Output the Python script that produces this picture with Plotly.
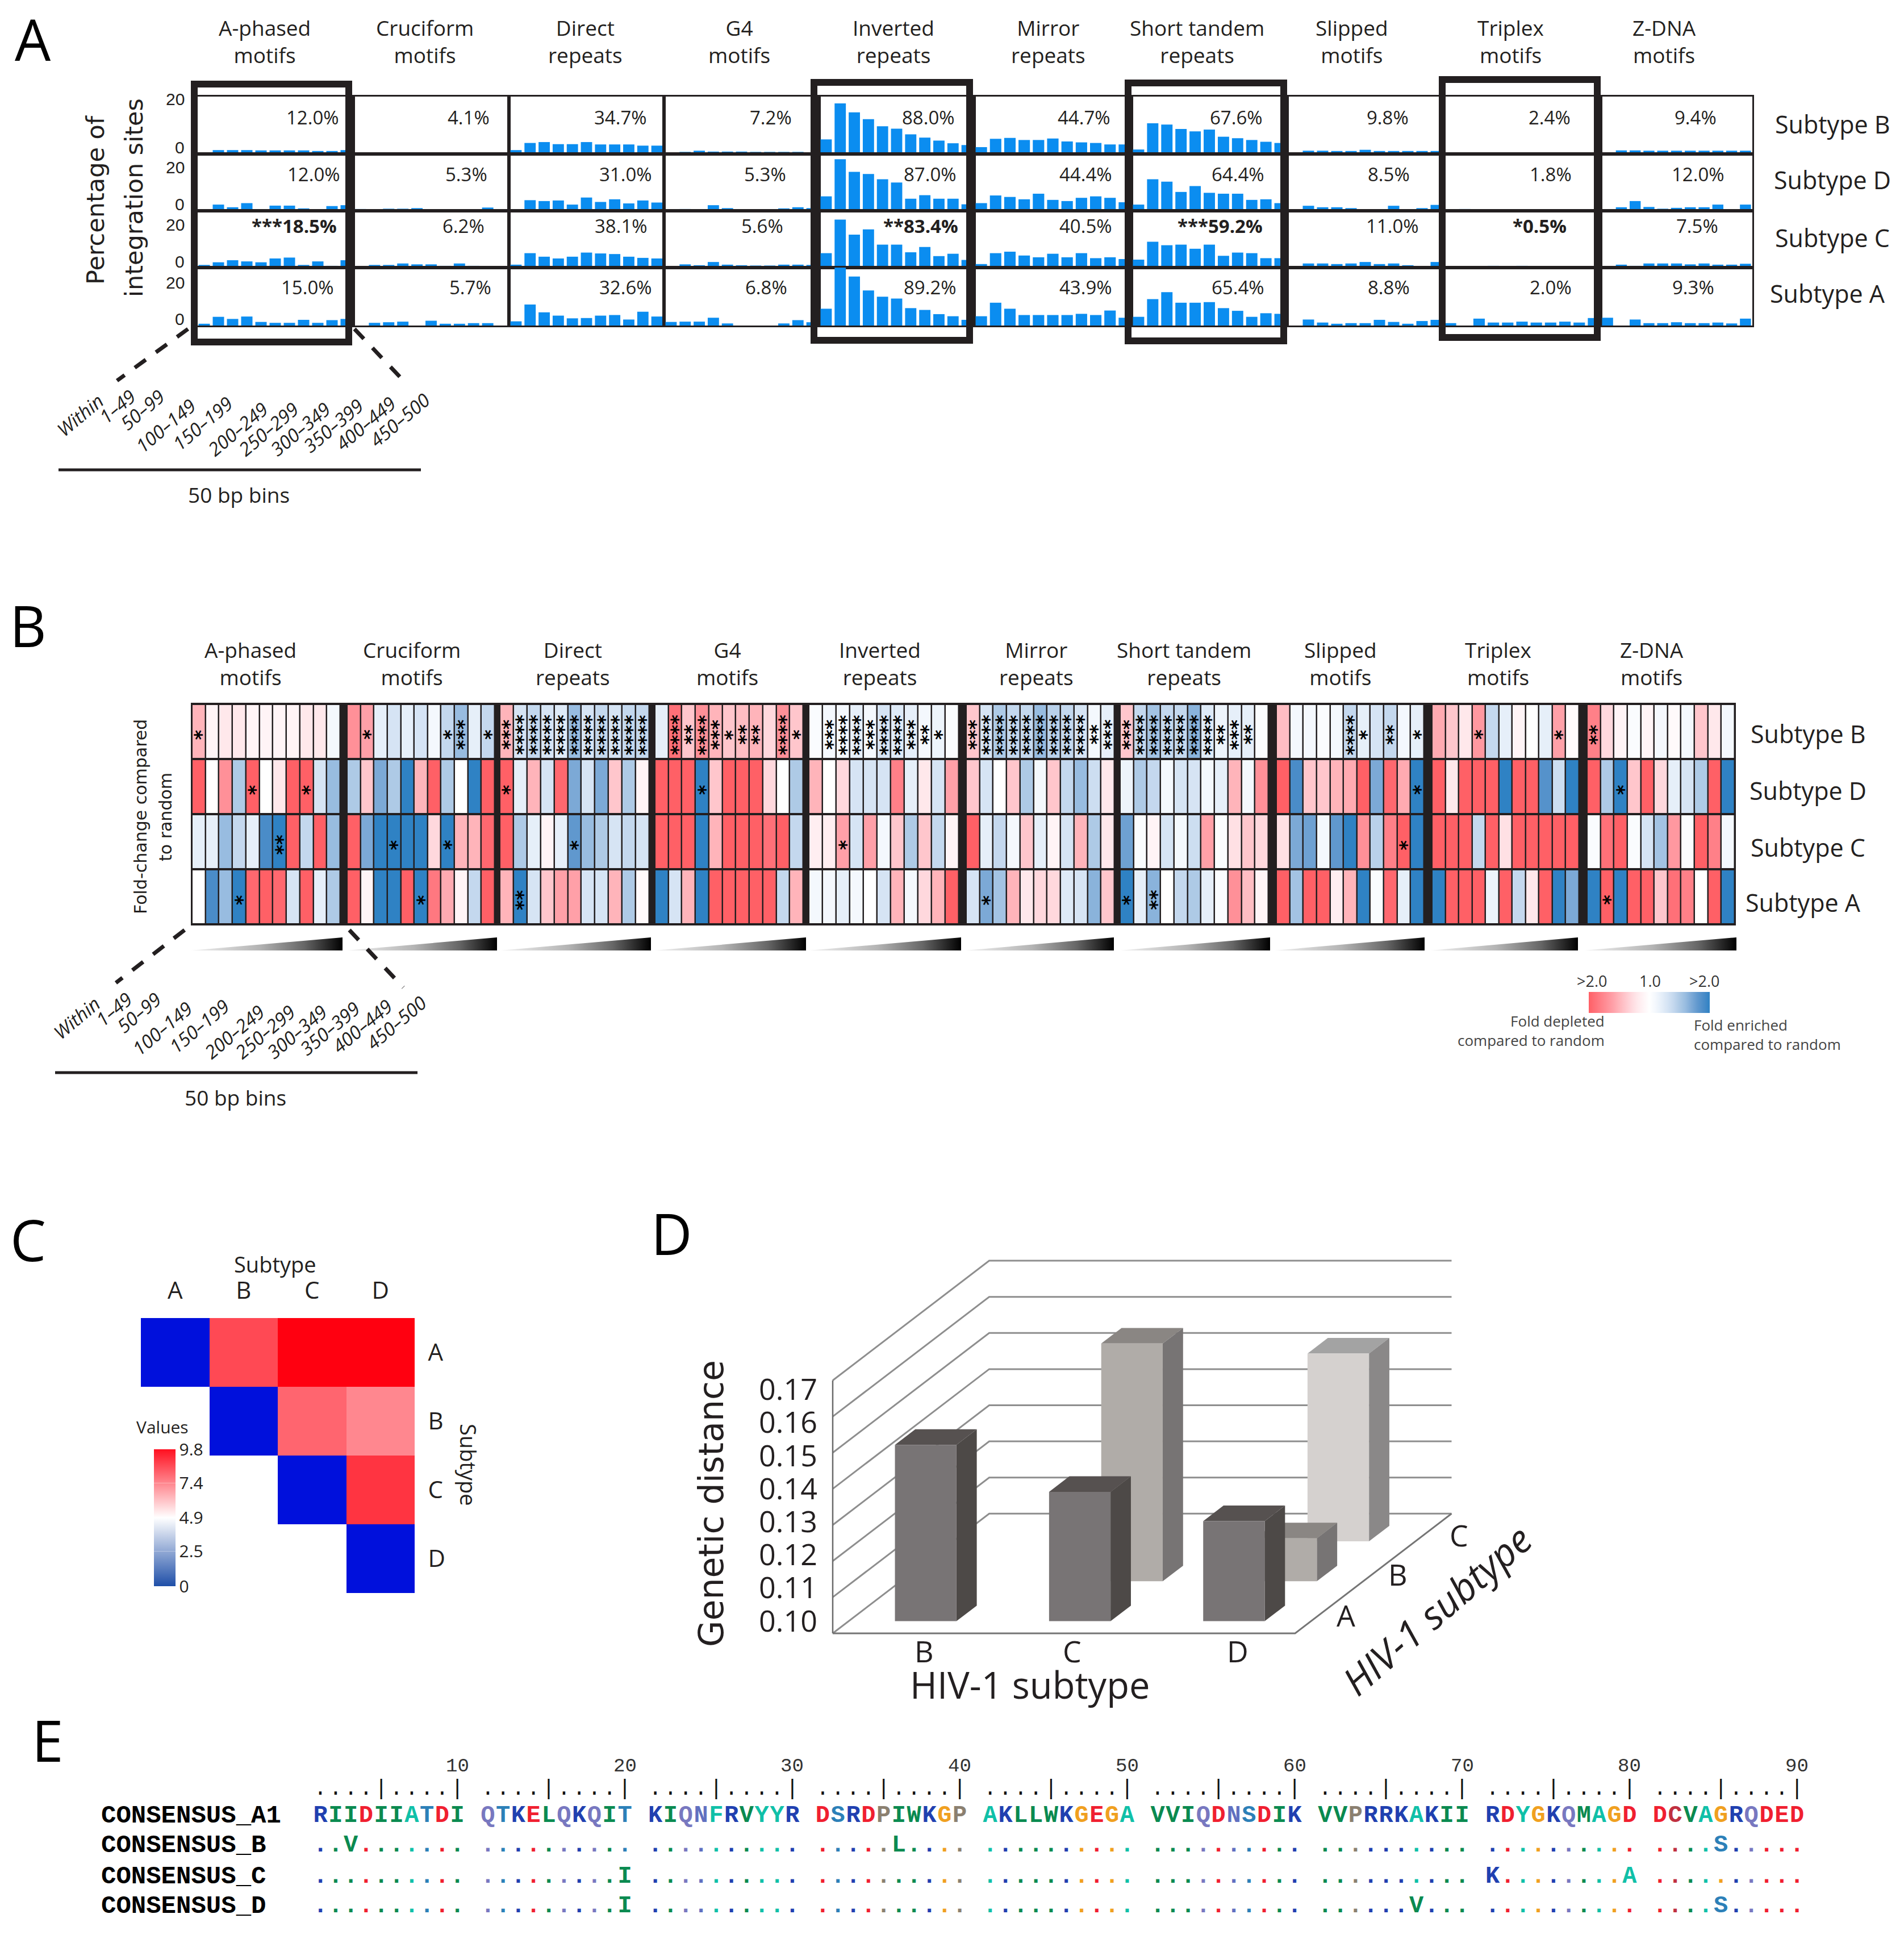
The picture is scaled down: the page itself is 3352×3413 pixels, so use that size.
import plotly.graph_objects as go

W, H = 3352, 3413
INK = "#231f20"
SANS = "Open Sans"
WIDE = "DejaVu Sans"
MONO = "Liberation Mono"

motifs = ["A-phased<br>motifs", "Cruciform<br>motifs", "Direct<br>repeats", "G4<br>motifs", "Inverted<br>repeats",
          "Mirror<br>repeats", "Short tandem<br>repeats", "Slipped<br>motifs", "Triplex<br>motifs", "Z-DNA<br>motifs"]
subtypes = ["Subtype B", "Subtype D", "Subtype C", "Subtype A"]
bins = ["Within", "1–49", "50–99", "100–149", "150–199", "200–249", "250–299", "300–349", "350–399", "400–449", "450–500"]

# Panel A: percentage of integration sites per bin, row order B, D, C, A
aphased = [[.5,1.3,1.3,1.3,1.2,1.2,1.2,1.2,1.0,1.0,1.3],[0,2.1,1.2,2.6,0,1.75,1.75,.8,0,1.6,1.9],
           [.9,1.8,2.5,2.1,1.8,3.1,3.4,.9,2.1,.6,2.5],[.6,2.9,2.2,3.0,1.2,.9,.9,1.9,.9,1.8,2.2]]
cruciform = [[0,.4,.4,.4,.4,.4,.4,.4,.4,.4,.4],[.6,.5,.7,.7,.9,.5,0,.5,.5,1.1,0],
             [0,.9,.9,1.4,1.1,1.1,.6,1.4,.6,.4,0],[0,.9,1.1,1.3,0,1.6,.6,.6,.8,.8,0]]
direct = [[1.3,3.7,4.0,3.3,3.3,4.0,3.2,3.2,3.2,2.8,2.8],[0,3.6,3.3,3.5,2.1,4.5,3.0,3.9,2.5,3.5,2.8],
          [1.0,4.9,3.7,3.1,3.7,5.1,4.8,4.6,3.7,3.3,3.1],[1.4,7.0,4.4,3.3,2.4,2.5,3.3,3.5,2.0,4.6,3.0]]
g4 = [[.4,.7,1.1,.8,.8,.8,.7,.7,.7,.7,.4],[0,.6,0,1.9,.9,0,0,0,.8,1.2,.9],
      [0,1.1,.8,1.9,1.0,.8,.7,.7,1.0,1.0,.9],[1.2,1.3,1.3,2.6,.7,0,0,0,.7,1.8,1.1]]
inverted = [[4.9,17.0,14.0,11.7,9.3,8.5,6.6,5.5,4.5,3.6,3.0],[4.9,17.5,13.2,12.5,10.7,9.6,4.1,5.3,4.1,4.1,2.2],
            [4.9,16.3,11.2,13.0,7.8,7.8,5.2,7.0,3.9,4.7,2.6],[5.6,19.5,16.3,11.7,9.6,9.0,5.8,5.2,3.8,3.1,1.9]]
mirror = [[2.3,5.1,5.4,4.7,4.7,5.2,4.2,3.9,3.7,3.2,3.2],[2.6,5.2,4.7,3.9,5.8,3.7,3.3,4.4,4.9,4.4,2.9],
          [1.2,4.9,5.4,4.1,3.5,4.7,3.5,4.9,3.2,3.5,2.9],[3.1,7.6,5.6,3.5,3.5,3.5,3.5,3.9,3.5,5.0,2.6]]
tandem = [[1.5,10.3,9.9,8.4,7.6,8.2,5.8,5.3,4.7,4.1,3.7],[2.1,10.7,9.9,6.4,8.4,6.1,5.8,5.8,3.7,3.9,2.6],
          [2.7,8.8,7.6,7.8,6.4,7.8,4.0,5.1,4.9,3.2,3.2],[2.9,8.8,11.1,7.6,7.6,7.8,5.8,4.9,2.9,4.1,3.9]]
slipped = [[.4,1.1,1.1,1.0,1.0,1.4,1.0,1.0,1.0,1.0,1.0],[0,1.7,1.2,1.2,.9,.5,0,1.7,0,.9,2.0],
           [.5,1.4,1.4,1.2,1.4,1.9,1.2,1.4,.8,0,1.9],[0,2.0,1.0,.6,.8,.8,1.9,1.2,.6,1.5,1.9]]
triplex = [[0,.5,.4,.4,.3,.4,.3,.3,.3,.3,.3],[0,.6,0,0,0,.5,0,0,.4,.4,.3],
           [0,0,0,.6,0,.6,0,0,0,0,0],[.8,0,2.3,1.0,1.0,1.3,1.0,1.0,1.3,1.0,2.5]]
zdna = [[0,1.2,1.2,1.1,1.1,1.1,1.1,1.1,1.1,1.1,1.1],[0,1.2,3.3,1.3,.7,1.0,1.2,1.2,2.1,0,2.1],
        [.5,1.0,.6,1.4,1.4,1.4,1.1,1.4,1.0,1.0,1.3],[2.6,0,2.0,.8,.8,1.1,.8,.8,1.0,.7,2.3]]
panel_a = [aphased, cruciform, direct, g4, inverted, mirror, tandem, slipped, triplex, zdna]
pct_labels = [["12.0%","4.1%","34.7%","7.2%","88.0%","44.7%","67.6%","9.8%","2.4%","9.4%"],
              ["12.0%","5.3%","31.0%","5.3%","87.0%","44.4%","64.4%","8.5%","1.8%","12.0%"],
              ["***18.5%","6.2%","38.1%","5.6%","**83.4%","40.5%","***59.2%","11.0%","*0.5%","7.5%"],
              ["15.0%","5.7%","32.6%","6.8%","89.2%","43.9%","65.4%","8.8%","2.0%","9.3%"]]

# Panel B: fold change (negative = depleted, positive = enriched; +-10 is >2.0)
fc_aphased = [[-5,-1,-2,-2,-1,-1,-1,-1,-2,-2,1],[-10,0,-7,5,-10,0,-2,-10,-10,3,6],
              [2,2,6,4,2,9,10,-10,4,-10,6],[0,9,6,10,-9.5,-10,-9.5,3,-10,2,5]]
fc_cruciform = [[-7,-6,2,3,2,3,1,4,6,2,4],[5,-4,7,5,10,-5,-10,5,0,10,-10],
                [-10,7,10,10,10,10,-3,10,-5,-5,-9.5],[-10,-1,10,10,-10,10,-8.5,-5.5,-1,4,-10]]
fc_direct = [[-5,3,4,3,2.5,6,3,4,3,4,4],[-10,2,-5,3,-9.5,7,3,7,-4,5,-1],
             [-10,5,2,-1,2,8,6,5,3,4,3],[-5,10,3,-4,-6,-6,3,3,-5,5,-.5]]
fc_g4 = [[2,-9,-4,-7,-5,-4,-4.5,-5,-3,-7,-4],[-10,-10,-10,10,-4,-10,-10,-10,-3,0,5],
         [-10,-10,-10,10,-5,-10,-10,-10,-9,-10,4],[10,3,-5,10,-10,-10,-10,-10,-10,4,-5]]
fc_inverted = [[.5,1,1,2,1,3,2.5,2,1,1.5,.5],[-5,0,-3,3,3,3,-8,2,-2,3,-6],
               [-1.5,-1.5,-6,3,-6,1,-4,5,-4,4,-1],[1,1,2,1,0,3,-5,1,-3,-5,-10]]
fc_mirror = [[-4,3,5,4,4,6,4.5,4,3,1,2],[-4,3,0,-4,5,1,-4,4,6,3.5,-2],
             [-10,2,4,1,-4,2,-1,3,-5,5,-2],[3,7,5.5,-5,-2,-3,-3,2.5,3,6.5,-4]]
fc_tandem = [[-4,4,5.5,4,4,6.5,2.5,1.5,2,2,.5],[1.5,5,4,1,3,3,1,2,-5,1,-7],
             [7.5,.5,-1,3,1,3.5,-6,.5,-2.5,-4,-3],[10,2,6.5,0,4,5,2,.5,-7,-4.5,-1]]
fc_slipped = [[-4.5,1,1,.5,1,4,2,3,4,1,2],[-10,9,-4,-4,-5,-5.5,-10,7,-9.5,-5.5,10],
              [-2.5,7,7.5,1,8,10,-7,4.5,-8,-10,10],[-10,5.5,-10,-10,-1.5,-5,10,.5,-9.5,2,10]]
fc_triplex = [[-5.5,-4,-2,-6.5,4,2,-1,0,2,-6,-.5],[-10,-2,-10,-10,-10,10,-10,-10,8.5,3.5,10],
              [-10,-10,-10,4,-10,-2.5,-10,-10,-10,-10,-10],[10,-10,-10,-10,1.5,-10,4,-2,-10,10,7]]
fc_zdna = [[-8,-3,-1,.5,-1,1,-.5,1,-4,-2,1],[-10,5,10,-4,-10,-3,2,3,5,-10,10],
           [.5,-9,-10,.5,3,5.5,-6.5,.5,-10,-8,1],[10,-10,10,-10,-10,-4,-9,-8,0,-10,10]]
panel_b = [fc_aphased, fc_cruciform, fc_direct, fc_g4, fc_inverted, fc_mirror, fc_tandem, fc_slipped, fc_triplex, fc_zdna]
# significance stars: (row, bin, number of stars)
stars = [[(0,0,1),(1,4,1),(1,8,1),(2,6,2),(3,3,1)],
         [(0,1,1),(0,7,1),(0,8,3),(0,10,1),(2,3,1),(2,7,1),(3,5,1)],
         [(0,0,3),(0,1,4),(0,2,4),(0,3,4),(0,4,4),(0,5,4),(0,6,4),(0,7,4),(0,8,4),(0,9,4),(0,10,4),(1,0,1),(2,5,1),(3,1,2)],
         [(0,1,4),(0,2,2),(0,3,4),(0,4,3),(0,5,1),(0,6,2),(0,7,2),(0,9,4),(0,10,1),(1,3,1)],
         [(0,1,3),(0,2,4),(0,3,4),(0,4,3),(0,5,4),(0,6,4),(0,7,3),(0,8,2),(0,9,1),(2,2,1)],
         [(0,0,3),(0,1,4),(0,2,4),(0,3,4),(0,4,4),(0,5,4),(0,6,4),(0,7,4),(0,8,4),(0,9,2),(0,10,3),(3,1,1)],
         [(0,0,3),(0,1,4),(0,2,4),(0,3,4),(0,4,4),(0,5,4),(0,6,4),(0,7,2),(0,8,3),(0,9,2),(3,0,1),(3,2,2)],
         [(0,5,4),(0,6,1),(0,8,2),(0,10,1),(1,10,1),(2,9,1)],
         [(0,3,1),(0,9,1)],
         [(0,0,2),(1,2,1),(3,1,1)]]

# Panel C: pairwise values (upper triangle)
c_labels = ["A", "B", "C", "D"]
c_values = [[0, 8.4, 9.8, 9.8], [None, 0, 7.85, 7.2], [None, None, 0, 8.8], [None, None, None, 0]]
c_ticks = [0, 2.5, 4.9, 7.4, 9.8]

# Panel D: genetic distance, rows A, B, C by columns B, C, D
d_columns = ["B", "C", "D"]
d_rows = ["A", "B", "C"]
d_values = [[0.1488, 0.1358, 0.1277], [None, 0.1658, 0.1119], [None, None, 0.1520]]
d_ticks = [0.10, 0.11, 0.12, 0.13, 0.14, 0.15, 0.16, 0.17]

# Panel E: alignment
consensus = "RIIDIIATDIQTKELQKQITKIQNFRVYYRDSRDPIWKGPAKLLWKGEGAVVIQDNSDIKVVPRRKAKIIRDYGKQMAGDDCVAGRQDED"
seq_names = ["CONSENSUS_A1", "CONSENSUS_B", "CONSENSUS_C", "CONSENSUS_D"]
substitutions = [{}, {2: "V", 35: "L", 84: "S"}, {19: "I", 70: "K", 79: "A"}, {19: "I", 66: "V", 84: "S"}]
residue_colors = {"R": "#2040B0", "K": "#2040B0", "I": "#0A8A50", "L": "#0A8A50", "V": "#0A8A50", "M": "#0A8A50",
                  "W": "#0A8A50", "D": "#F01F30", "E": "#F01F30", "A": "#10C0A8", "F": "#10C0A8", "Y": "#10C0A8",
                  "T": "#2C80B8", "S": "#2C80B8", "Q": "#7878C0", "N": "#6070C0", "G": "#F0A020", "P": "#8B8070",
                  "C": "#C03040"}

fig = go.Figure()
ann, shp = [], []
TEXT_NUDGE = -3


def T(text, x, y, size, font=SANS, color=INK, anchor="center", angle=0, align="center"):
    ann.append(dict(text=text, x=x, y=y + TEXT_NUDGE, xref="x", yref="y", showarrow=False, xanchor=anchor, yanchor="middle",
                    textangle=angle, align=align, font=dict(size=size, family=font, color=color)))


def L(x0, y0, x1, y1, width, color=INK, dash=None):
    shp.append(dict(type="line", x0=x0, y0=y0, x1=x1, y1=y1, xref="x", yref="y",
                    line=dict(width=width, color=color, dash=dash)))


layout = dict(
    width=W, height=H, margin=dict(l=0, r=0, t=0, b=0), paper_bgcolor="white", plot_bgcolor="rgba(0,0,0,0)",
    showlegend=False, font=dict(family=SANS, color=INK),
    xaxis=dict(domain=[0, 1], range=[0, W], visible=False, fixedrange=True),
    yaxis=dict(domain=[0, 1], range=[H, 0], visible=False, fixedrange=True),
)
ax_n = 1


def new_axes(x0, x1, y0, y1, xopts, yopts):
    global ax_n
    ax_n += 1
    base = dict(showgrid=False, zeroline=False, fixedrange=True)
    layout[f"xaxis{ax_n}"] = dict(base, domain=[x0 / W, x1 / W], anchor=f"y{ax_n}", **xopts)
    layout[f"yaxis{ax_n}"] = dict(base, domain=[1 - y1 / H, 1 - y0 / H], anchor=f"x{ax_n}", **yopts)
    return f"x{ax_n}", f"y{ax_n}"


# ---------- Panel A ----------
a_edges = [347, 622, 896, 1169, 1442, 1715, 1992, 2266, 2541, 2818, 3085]
a_rows = [170, 271, 371, 471, 573]
a_title_x = [466, 748, 1030, 1301, 1573, 1845, 2107, 2380, 2659, 2930]
a_pct_right = [[599, 864, 1141, 1396, 1683, 1957, 2225, 2482, 2767, 3024],
               [601, 860, 1150, 1386, 1686, 1960, 2228, 2484, 2769, 3038],
               [595, 855, 1142, 1381, 1689, 1960, 2225, 2500, 2760, 3027],
               [590, 867, 1150, 1388, 1686, 1960, 2228, 2484, 2769, 3020]]
a_pct_y = [209, 309, 400, 508]
a_label_y = [221, 319, 421, 519]
a_label_x = [3226, 3226, 3226, 3217]
a_tick_20 = [174, 294, 395, 497]
a_tick_0 = [259, 359, 460, 561]
for c, panel in enumerate(panel_a):
    for r, vals in enumerate(panel):
        frame = dict(showline=True, mirror=True, linecolor=INK, linewidth=3, showticklabels=False, ticks="")
        xa, ya = new_axes(a_edges[c], a_edges[c + 1], a_rows[r], a_rows[r + 1],
                          dict(frame, range=[-.5, 10.5]), dict(frame, range=[0, 19.3]))
        fig.add_trace(go.Bar(x=list(range(11)), y=vals, xaxis=xa, yaxis=ya, marker=dict(color="#0B8DF0", line_width=0),
                             width=0.8))
        text = pct_labels[r][c]
        if text.startswith("*"):
            text = f"<b>{text}</b>"
        T(text, a_pct_right[r][c], a_pct_y[r], 33, anchor="right")
    T(motifs[c], a_title_x[c], 75, 37)
for r in range(4):
    T(subtypes[r], a_label_x[r], a_label_y[r], 43)
    T("20", 327, a_tick_20[r] + 3, 30, font="Liberation Sans", anchor="right")
    T("0", 327, a_tick_0[r] + 3, 30, font="Liberation Sans", anchor="right")
for x0, y0, x1, y1 in [(336, 142, 620, 608), (1427, 139, 1713, 605), (1980, 140, 2266, 606), (2533, 134, 2818, 600)]:
    shp.append(dict(type="rect", x0=x0 + 6, x1=x1 - 6, y0=y0 + 6, y1=y1 - 6, xref="x", yref="y",
                    line=dict(width=12, color=INK)))
T("Percentage of", 168, 355, 43, font=WIDE, angle=-90)
T("integration sites", 236, 351, 43, font=WIDE, angle=-90)
L(331, 579, 206, 670, 7, dash="24px,22px")
L(624, 579, 716, 676, 7, dash="24px,22px")

bin_x = [141, 206, 250, 291, 356, 418, 472, 528, 586, 643, 703]
bin_y = [733, 718, 724, 752, 748, 758, 758, 758, 752, 748, 742]
for dx, dy in [(0, 0), (-6, 1061)]:
    for i, name in enumerate(bins):
        T(f"<i>{name}</i>", bin_x[i] + dx, bin_y[i] + dy, 33, angle=-40)
    L(103 + dx, 827 + dy, 741 + dx, 827 + dy, 5)
    T("50 bp bins", 420 + dx, 873 + dy, 37)

# ---------- Panel B ----------
b_edges = [(338, 599), (611, 871), (880, 1143), (1153, 1414), (1424, 1688), (1701, 1962), (1972, 2233), (2247, 2507),
           (2521, 2780), (2794, 3054)]
b_title_x = [441, 725, 1008, 1280, 1549, 1824, 2084, 2360, 2637, 2908]
shp.append(dict(type="rect", x0=336, x1=3056, y0=1237, y1=1629, xref="x", yref="y", layer="below",
                fillcolor=INK, line_width=0))
for c, rows in enumerate(panel_b):
    off = dict(visible=False)
    xa, ya = new_axes(b_edges[c][0], b_edges[c][1], 1239, 1627, dict(off, range=[-.5, 10.5]), dict(off, range=[3.5, -.5]))
    fig.add_trace(go.Heatmap(z=rows, x=list(range(11)), y=list(range(4)), xaxis=xa, yaxis=ya, coloraxis="coloraxis",
                             xgap=2.5, ygap=4, hoverinfo="skip"))
    for r, b, n in stars[c]:
        ann.append(dict(text=f"<b>{'*' * n}</b>", x=b, y=r, xref=xa, yref=ya, showarrow=False, textangle=90, yshift=-6,
                        xshift=-5, font=dict(size=34, family=WIDE, color="black")))
    T(motifs[c], b_title_x[c], 1170, 37)
blue_steps = ["#FFFFFF", "#F4F8FD", "#E6EFF9", "#D6E4F4", "#C4D8EE", "#AECAE6", "#98BCE0", "#7CA9D6", "#6098CE", "#4A8CC8", "#2F82C4"]
red_steps = ["#FFFFFF", "#FFF4F6", "#FFE8EB", "#FFD8DD", "#FFC6CC", "#FFB4BA", "#FFA0A8", "#FF9098", "#FF8088", "#FF7078", "#FF6066"]
fold_scale = [[(10 - i) / 20, red_steps[i]] for i in range(10, 0, -1)] + [[(10 + i) / 20, blue_steps[i]] for i in range(0, 11)]
layout["coloraxis"] = dict(
    cmin=-10, cmax=10, colorscale=fold_scale,
    colorbar=dict(orientation="h", x=2797 / W, xanchor="left", y=1 - 1783 / H, yanchor="bottom", len=213, lenmode="pixels",
                  thickness=37, thicknessmode="pixels", xpad=0, ypad=0, outlinewidth=0, ticks="", showticklabels=False))
for text, x in [(">2.0", 2802), ("1.0", 2905), (">2.0", 3000)]:
    T(text, x, 1729, 27, color="#333333")
b_label_y = [1294, 1394, 1494, 1591]
b_label_x = [3183, 3183, 3183, 3174]
for r in range(4):
    T(subtypes[r], b_label_x[r], b_label_y[r], 43)
T("Fold-change compared", 247, 1441, 30, font=WIDE, angle=-90)
T("to random", 291, 1441, 30, font=WIDE, angle=-90)
L(325, 1637, 204, 1730, 7, dash="24px,22px")
L(615, 1637, 710, 1738, 7, dash="24px,22px")
wedges = [(336, 603), (610, 875), (881, 1146), (1152, 1419), (1424, 1692), (1699, 1961), (1972, 2236), (2244, 2508),
          (2518, 2778), (2789, 3057)]
for x0, x1 in wedges:
    fig.add_trace(go.Scatter(x=[x0, x1, x1, x0], y=[1673, 1650, 1673, 1673], mode="lines", line_width=0, fill="toself",
                             fillgradient=dict(type="horizontal", colorscale=[[0, "#f2f2f2"], [.45, "#b4b4b4"], [.75, "#666666"], [1, "#000000"]]),
                             hoverinfo="skip"))
T("Fold depleted<br>compared to random", 2827, 1817, 26, color="#444444", anchor="right", align="right")
T("Fold enriched<br>compared to random", 2980, 1824, 26, color="#444444", anchor="left", align="left")

# ---------- Panel C ----------
xa, ya = new_axes(248, 730, 2320, 2804,
                  dict(side="top", tickmode="array", tickvals=c_labels, ticktext=c_labels, ticks="outside", ticklen=16,
                       tickcolor="rgba(0,0,0,0)", tickfont=dict(size=42, family=SANS, color=INK), type="category",
                       categoryorder="array", categoryarray=c_labels),
                  dict(side="right", tickmode="array", tickvals=c_labels, ticktext=c_labels, ticks="outside", ticklen=14,
                       tickcolor="rgba(0,0,0,0)", tickfont=dict(size=42, family=SANS, color=INK), type="category",
                       categoryorder="array", categoryarray=c_labels[::-1]))
fig.add_trace(go.Heatmap(z=c_values, x=c_labels, y=c_labels, xaxis=xa, yaxis=ya, zmin=0, zmax=9.8, showscale=False,
                         colorscale=[[0, "#0010DC"], [.5, "#FFFFFF"], [1, "#FF0010"]], hoverinfo="skip"))
layout["coloraxis2"] = dict(
    cmin=0, cmax=9.8, colorscale=[[0, "#1F4FA8"], [.5, "#FFFFFF"], [1, "#FF1020"]],
    colorbar=dict(x=271 / W, xanchor="left", y=1 - 2792 / H, yanchor="bottom", len=241, lenmode="pixels", thickness=38,
                  thicknessmode="pixels", xpad=0, ypad=0, outlinewidth=0, ticks="inside", ticklen=38, tickcolor="rgba(255,255,255,.35)",
                  tickvals=c_ticks, ticktext=["0", "2.5", "4.9", "7.4", "9.8"], tickfont=dict(size=30, family=SANS, color=INK)))
fig.add_trace(go.Scatter(x=[None, None], y=[None, None], mode="markers",
                         marker=dict(color=[0, 9.8], coloraxis="coloraxis2"), hoverinfo="skip"))
T("Subtype", 484, 2228, 38)
T("Subtype", 825, 2581, 38, angle=90)
T("Values", 286, 2514, 30)

# ---------- Panel D (oblique projection of bars from their values) ----------
DX0, DY0, DW = 1466, 2875, 814
DEPTH_X, DEPTH_Y = 275.5, -210.7
DUNIT = 6360


def proj(fx, depth, value):
    return DX0 + fx * DW + depth * DEPTH_X, DY0 + depth * DEPTH_Y - (value - d_ticks[0]) * DUNIT


GRID = "#8E8E8E"


def dline(pts, color=GRID, width=3):
    fig.add_trace(go.Scatter(x=[p[0] for p in pts], y=[p[1] for p in pts], mode="lines",
                             line=dict(color=color, width=width), hoverinfo="skip"))


for v in d_ticks:
    dline([proj(0, 0, v), proj(0, 1, v), proj(1, 1, v)])
dline([proj(0, 0, d_ticks[0]), proj(0, 0, d_ticks[-1])], color="#6A6A6A", width=2.5)
dline([proj(0, 0, d_ticks[0]), proj(1, 0, d_ticks[0]), proj(1, 1, d_ticks[0])], color="#757575", width=3)
row_colors = [("#787475", "#565150", "#4D4947"), ("#B0ACA8", "#8A8683", "#777474"), ("#D5D1CF", "#A3A3A3", "#8A8888")]
BAR_W, BAR_D = 0.133, 0.13


def poly(pts, color):
    fig.add_trace(go.Scatter(x=[p[0] for p in pts] + [pts[0][0]], y=[p[1] for p in pts] + [pts[0][1]], mode="lines",
                             line=dict(width=0), fill="toself", fillcolor=color, hoverinfo="skip"))


for r in [2, 1, 0]:
    front, top, side = row_colors[r]
    d0 = (r + .5) / 3 - BAR_D / 2
    d1 = d0 + BAR_D
    for c, v in enumerate(d_values[r]):
        if v is None:
            continue
        x0 = (c + .5) / 3 - BAR_W / 2
        x1 = x0 + BAR_W
        b = d_ticks[0]
        poly([proj(x0, d0, v), proj(x1, d0, v), proj(x1, d1, v), proj(x0, d1, v)], top)
        poly([proj(x1, d0, b), proj(x1, d1, b), proj(x1, d1, v), proj(x1, d0, v)], side)
        poly([proj(x0, d0, b), proj(x1, d0, b), proj(x1, d0, v), proj(x0, d0, v)], front)
for v in d_ticks:
    T(f"{v:.2f}", 1441, 2854 - (v - d_ticks[0]) * 5820, 52, anchor="right")
for name, x in zip(d_columns, [1627, 1887, 2179]):
    T(name, x, 2908, 52)
for name, x, y in zip(d_rows, [2369, 2461, 2568], [2845, 2773, 2704]):
    T(name, x, y, 52)
T("Genetic distance", 1252, 2650, 60, font=WIDE, angle=-90)
T("HIV-1 subtype", 1813, 2968, 65)
T("<i>HIV-1 subtype</i>", 2528, 2836, 68, angle=-41)

# ---------- Panel E ----------
E_X0, E_DX = 564, 26.8
seq_y = [3196, 3248, 3303, 3355]
cols = [i + i // 10 for i in range(len(consensus))]
col_x = [E_X0 + c * E_DX for c in cols]
for r, name in enumerate(seq_names):
    T(f"<b>{name}</b>", 176, seq_y[r] + 3, 44, font=MONO, color="black", anchor="left")
    if r == 0:
        chars = list(consensus)
        colors = [residue_colors[ch] for ch in chars]
    else:
        chars = [substitutions[r].get(i, ".") for i in range(len(consensus))]
        colors = [residue_colors[substitutions[r].get(i, consensus[i])] for i in range(len(consensus))]
    fig.add_trace(go.Scatter(x=col_x, y=[seq_y[r]] * len(chars), mode="text", text=chars,
                             textfont=dict(family=MONO, size=42, color=colors, weight="bold"), hoverinfo="skip"))
ruler = ["|" if (i + 1) % 5 == 0 else "." for i in range(len(consensus))]
fig.add_trace(go.Scatter(x=col_x, y=[3149] * len(ruler), mode="text", text=ruler,
                         textfont=dict(family=MONO, size=38, color="#111111"), hoverinfo="skip"))
for i in range(9, len(consensus), 10):
    T(str(i + 1), col_x[i], 3112, 34, font=MONO, color="#333333")

# ---------- panel letters ----------
for letter, x, y in [("A", 58, 71), ("B", 49, 1103), ("C", 49, 2184), ("D", 1182, 2173), ("E", 84, 3065)]:
    T(letter, x, y, 100, color="black")

layout["annotations"] = ann
layout["shapes"] = shp
fig.update_layout(**layout)
fig.write_html("out.html", config=dict(displayModeBar=False),
               post_script="document.body.style.margin='0';document.body.style.background='white';")
